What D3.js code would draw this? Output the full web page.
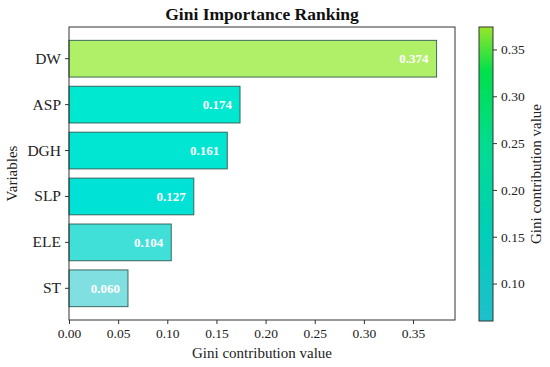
<!DOCTYPE html>
<html>
<head>
<meta charset="utf-8">
<script src="https://cdn.jsdelivr.net/npm/d3@7"></script>
<style>
  body { margin: 0; background: #fff; }
  svg { font-family: "Liberation Serif", "Times New Roman", serif; }
</style>
</head>
<body>
<svg id="chart" width="550" height="367"></svg>
<script>
// ---------- data
var variables = ['DW', 'ASP', 'DGH', 'SLP', 'ELE', 'ST'];
var giniValues = [0.374, 0.174, 0.161, 0.127, 0.104, 0.060];
var xTicks = [0.00, 0.05, 0.10, 0.15, 0.20, 0.25, 0.30, 0.35];
var barTicks = [0.10, 0.15, 0.20, 0.25, 0.30, 0.35];

// ---------- layout
var plotLeft = 69, plotRight = 455, plotTop = 27, plotBottom = 320;
var svg = d3.select('#chart');

var x = d3.scaleLinear()
  .domain([0, d3.max(giniValues) * 1.05])
  .range([plotLeft, plotRight]);

var y = d3.scaleBand()
  .domain(variables)
  .range([plotTop, plotBottom])
  .paddingInner(0.2)
  .paddingOuter(0.29);

// colorbar gradient (cyan -> green -> yellow-green)
var cbDomain = [d3.min(giniValues), d3.max(giniValues)];
var cbStops = ['#1fbfcc', '#00cfb8', '#00dc90', '#00e04a', '#98e62a'];
var cbOffsets = [0, 0.3, 0.6, 0.85, 1];
var cbColor = d3.scaleLinear()
  .domain(cbOffsets.map(function(t) { return cbDomain[0] + (cbDomain[1] - cbDomain[0]) * t; }))
  .range(cbStops);

// bar fill is drawn lighter than the colorbar
var barColor = d3.scaleLinear()
  .domain([0.06, 0.104, 0.127, 0.174, 0.374])
  .range(['#80dfe0', '#40e0d8', '#00e2d6', '#00e8d0', '#b0f068']);

// ---------- bars
svg.append('g').selectAll('rect')
  .data(variables)
  .enter().append('rect')
  .attr('x', x(0))
  .attr('y', function(d) { return y(d); })
  .attr('width', function(d, i) { return x(giniValues[i]) - x(0); })
  .attr('height', y.bandwidth())
  .attr('fill', function(d, i) { return barColor(giniValues[i]); })
  .attr('stroke', '#2f5a50')
  .attr('stroke-width', 0.9);

svg.append('g').selectAll('text')
  .data(variables)
  .enter().append('text')
  .attr('x', function(d, i) { return x(giniValues[i]) - 8; })
  .attr('y', function(d) { return y(d) + y.bandwidth() / 2; })
  .attr('dy', '0.35em')
  .attr('text-anchor', 'end')
  .attr('fill', '#fff')
  .attr('font-weight', 'bold')
  .attr('font-size', 13)
  .text(function(d, i) { return giniValues[i].toFixed(3); });

// ---------- frame and axes
svg.append('rect')
  .attr('x', plotLeft).attr('y', plotTop)
  .attr('width', plotRight - plotLeft).attr('height', plotBottom - plotTop)
  .attr('fill', 'none').attr('stroke', '#333').attr('stroke-width', 1);

function styleAxis(g, size) {
  g.attr('font-family', null);
  g.select('.domain').remove();
  g.selectAll('text').attr('font-size', size).attr('fill', '#222');
  g.selectAll('line').attr('stroke', '#333');
}

var xAxis = svg.append('g')
  .attr('transform', 'translate(0,' + plotBottom + ')')
  .call(d3.axisBottom(x).tickValues(xTicks).tickFormat(d3.format('.2f')).tickSize(4).tickPadding(4));
styleAxis(xAxis, 13.5);

var yAxis = svg.append('g')
  .attr('transform', 'translate(' + plotLeft + ',0)')
  .call(d3.axisLeft(y).tickSize(4).tickPadding(4));
styleAxis(yAxis, 15.5);

svg.append('text')
  .attr('x', (plotLeft + plotRight) / 2).attr('y', 20)
  .attr('text-anchor', 'middle')
  .attr('font-size', 17.5).attr('font-weight', 'bold').attr('fill', '#111')
  .text('Gini Importance Ranking');

svg.append('text')
  .attr('x', (plotLeft + plotRight) / 2).attr('y', 358)
  .attr('text-anchor', 'middle')
  .attr('font-size', 15).attr('fill', '#222')
  .text('Gini contribution value');

var vx = 17, vy = (plotTop + plotBottom) / 2;
svg.append('text')
  .attr('x', vx).attr('y', vy)
  .attr('text-anchor', 'middle')
  .attr('transform', 'rotate(-90 ' + vx + ',' + vy + ')')
  .attr('font-size', 15).attr('fill', '#222')
  .text('Variables');

// ---------- colorbar
var cbLeft = 479, cbWidth = 14, cbTop = 27, cbBottom = 321;
var cbScale = d3.scaleLinear().domain(cbDomain).range([cbBottom, cbTop]);

var grad = svg.append('defs').append('linearGradient')
  .attr('id', 'cbGrad')
  .attr('x1', 0).attr('y1', 1).attr('x2', 0).attr('y2', 0);
d3.range(0, 1.0001, 0.05).forEach(function(t) {
  grad.append('stop')
    .attr('offset', t)
    .attr('stop-color', cbColor(cbDomain[0] + t * (cbDomain[1] - cbDomain[0])));
});

svg.append('rect')
  .attr('x', cbLeft).attr('y', cbTop)
  .attr('width', cbWidth).attr('height', cbBottom - cbTop)
  .attr('fill', 'url(#cbGrad)')
  .attr('stroke', '#333').attr('stroke-width', 1);

var cbAxis = svg.append('g')
  .attr('transform', 'translate(' + (cbLeft + cbWidth) + ',0)')
  .call(d3.axisRight(cbScale).tickValues(barTicks).tickFormat(d3.format('.2f')).tickSize(4).tickPadding(4));
styleAxis(cbAxis, 13.5);

var cx = 541, cy = (cbTop + cbBottom) / 2;
svg.append('text')
  .attr('x', cx).attr('y', cy)
  .attr('text-anchor', 'middle')
  .attr('transform', 'rotate(-90 ' + cx + ',' + cy + ')')
  .attr('font-size', 15).attr('fill', '#222')
  .text('Gini contribution value');
</script>
</body>
</html>
